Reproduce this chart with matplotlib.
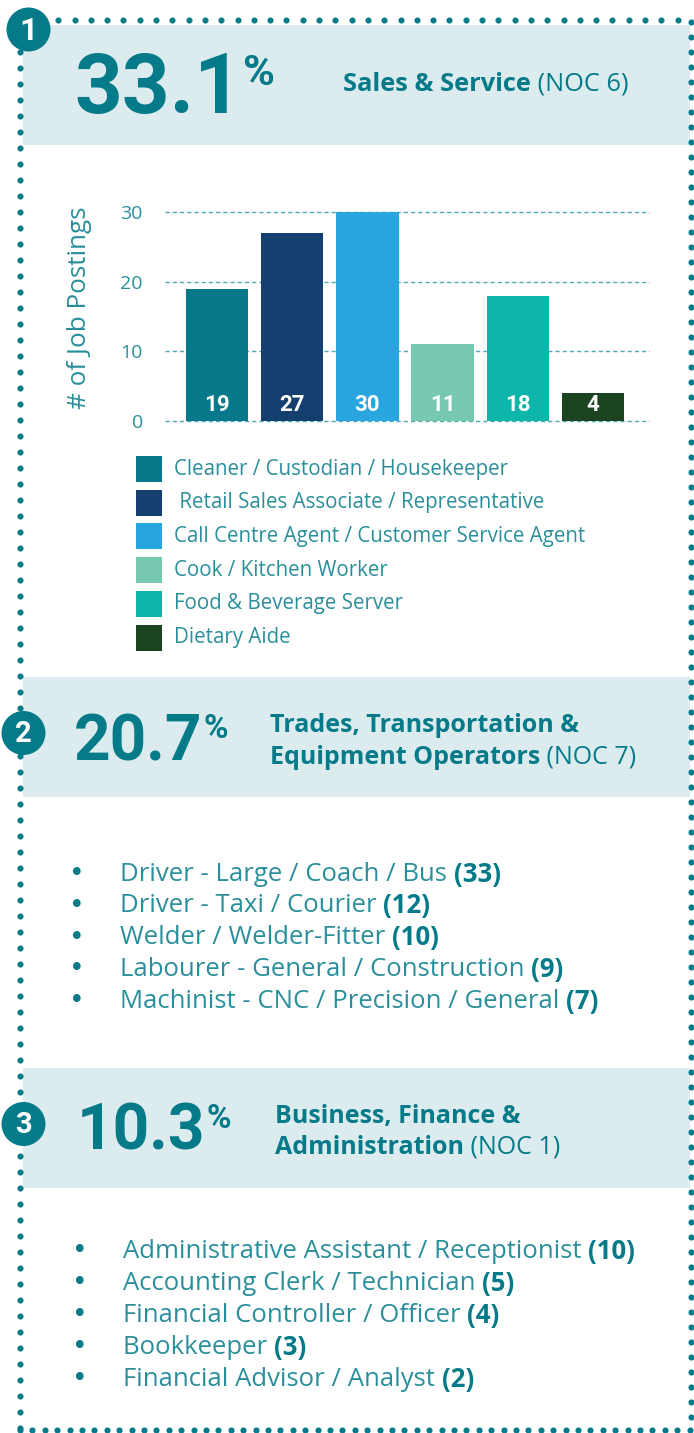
import matplotlib
matplotlib.use("Agg")
import matplotlib.pyplot as plt
import matplotlib.patches as patches
import numpy as np

# ---- data ----
jobs = ["Cleaner / Custodian / Housekeeper",
        " Retail Sales Associate / Representative",
        "Call Centre Agent / Customer Service Agent",
        "Cook / Kitchen Worker",
        "Food & Beverage Server",
        "Dietary Aide"]
postings = [19, 27, 30, 11, 18, 4]
bar_colors = ["#05788a", "#153f6e", "#29a6e0", "#77c8b0", "#0db6ab", "#1b4320"]
y_ticks = [0, 10, 20, 30]

shares = ["33.1", "20.7", "10.3"]

trades_jobs = ["Driver - Large / Coach / Bus", "Driver - Taxi / Courier",
               "Welder / Welder-Fitter", "Labourer - General / Construction",
               "Machinist - CNC / Precision / General"]
trades_counts = [33, 12, 10, 9, 7]

business_jobs = ["Administrative Assistant / Receptionist", "Accounting Clerk / Technician",
                 "Financial Controller / Officer", "Bookkeeper", "Financial Advisor / Analyst"]
business_counts = [10, 5, 4, 3, 2]

TEAL = "#057a89"
LIGHT = "#2a8f9b"
BAND = "#dcebee"
GRID = "#4fa8b3"
FONT = ["Open Sans", "DejaVu Sans"]

W, H = 694, 1433
fig = plt.figure(figsize=(W / 100, H / 100), dpi=100)
bg = fig.add_axes([0, 0, 1, 1])
bg.set_xlim(0, W)
bg.set_ylim(H, 0)
bg.axis("off")
renderer = fig.canvas.get_renderer()
PX = 100 / 72  # pixels per point


def rich(x, y, parts, size, color=TEAL, va="center"):
    """draw consecutive text runs [(text, weight, color)] starting at x"""
    for txt, weight, col in parts:
        t = bg.text(x, y, txt, fontsize=size, fontweight=weight, color=col or color,
                    family=FONT, ha="left", va=va, zorder=5)
        x += t.get_window_extent(renderer).width
    return x


# ---- header bands ----
for y0, y1 in [(25, 145), (677, 797), (1068, 1188)]:
    bg.add_patch(patches.Rectangle((23, y0), 667, y1 - y0, fc=BAND, ec="none", zorder=1))

# ---- dotted frame ----
dot = dict(ls="none", marker="o", ms=4.4, color=TEAL, mec="none", zorder=3)
xs_top = np.arange(42, 694, 16.3)
xs_bot = np.arange(20, 694, 12.4)
ys_left = np.arange(52, 1432, 16)
ys_right = np.arange(22, 1432, 15)
bg.plot(xs_top, np.full_like(xs_top, 20), **dot)
bg.plot(xs_bot, np.full_like(xs_bot, 1430), **dot)
bg.plot(np.full_like(ys_left, 20), ys_left, **dot)
bg.plot(np.full_like(ys_right, 691), ys_right, **dot)

# ---- badges ----
for (cx, cy, r), num in zip([(28.5, 29.5, 22), (23.5, 733, 22), (23.5, 1124, 22)], ["1", "2", "3"]):
    bg.add_patch(patches.Circle((cx, cy), r, fc=TEAL, ec="none", zorder=6))
    bg.text(cx, cy + 1, num, color="white", fontsize=23 if num == "1" else 21, fontweight="bold",
            family="Roboto", ha="center", va="center", zorder=7)


def big_share(x, y_base, value, size):
    t = bg.text(x, y_base, value, fontsize=size, fontweight="bold", color=TEAL,
                family="Roboto", ha="left", va="baseline", zorder=5)
    bb = t.get_window_extent(renderer)
    digit_top = y_base - 0.711 * size * PX
    psize = size * 0.52
    bg.text(x + bb.width + 1, digit_top + 0.711 * psize * PX, "%", fontsize=psize,
            fontweight="bold", color=TEAL, family="Roboto", ha="left", va="baseline", zorder=5)


# ---- section 1 ----
big_share(74, 113, shares[0], 60)
rich(343, 84, [("Sales & Service", "bold", None), (" (NOC 6)", "normal", None)], 18.3)

# bar chart
ppu = 209 / 30
lo, hi = -0.3, 30.3
ax_bottom = 421 + 0.3 * ppu
ax_h = (hi - lo) * ppu
ax = fig.add_axes([165 / W, 1 - ax_bottom / H, 485 / W, ax_h / H])
x = np.arange(len(postings))
xmin = -(217 - 165) / 75.2
ax.set_xlim(xmin, xmin + 485 / 75.2)
ax.set_ylim(lo, hi)
ax.bar(x, postings, width=0.83, color=bar_colors, zorder=3)
for xi, v in zip(x, postings):
    ax.text(xi, 2.3, str(v), color="white", fontsize=16, fontweight="bold",
            family="Roboto", ha="center", va="center", zorder=4)
for yt in y_ticks:
    ax.axhline(yt, color=GRID, lw=1, ls=(0, (3, 2.2)), zorder=1)
ax.set_yticks(y_ticks)
ax.set_yticklabels([str(v) for v in y_ticks], fontsize=14, color=LIGHT, family=FONT)
ax.tick_params(axis="y", length=0, pad=16)
ax.set_xticks([])
for s in ax.spines.values():
    s.set_visible(False)
ax.patch.set_alpha(0)

bg.text(80, 308, "# of Job Postings", rotation=90, fontsize=18.8, color=LIGHT,
        family=FONT, ha="center", va="center")

# legend
for i, (lab, col) in enumerate(zip(jobs, bar_colors)):
    yc = 469 + i * 33.7
    bg.add_patch(patches.Rectangle((136, yc - 13), 26, 26, fc=col, ec="none", zorder=4))
    bg.text(174, yc, lab, fontsize=14.8, color=LIGHT, family=FONT, ha="left", va="center")

# ---- section 2 ----
big_share(74, 760, shares[1], 46)
rich(270, 725, [("Trades, Transportation &", "bold", None)], 18)
rich(270, 757, [("Equipment Operators", "bold", None), (" (NOC 7)", "normal", None)], 18)

for i, (job, n) in enumerate(zip(trades_jobs, trades_counts)):
    yc = 874 + i * 31.8
    bg.text(77, yc, "\u2022", fontsize=19, color=TEAL, family="DejaVu Sans", ha="center", va="center")
    rich(120, yc, [(job + " ", "normal", LIGHT), (f"({n})", "bold", TEAL)], 18.5)

# ---- section 3 ----
big_share(77, 1150, shares[2], 46)
rich(275, 1116, [("Business, Finance &", "bold", None)], 18)
rich(275, 1147, [("Administration", "bold", None), (" (NOC 1)", "normal", None)], 18)

for i, (job, n) in enumerate(zip(business_jobs, business_counts)):
    yc = 1251 + i * 32
    bg.text(80, yc, "\u2022", fontsize=19, color=TEAL, family="DejaVu Sans", ha="center", va="center")
    rich(123, yc, [(job + " ", "normal", LIGHT), (f"({n})", "bold", TEAL)], 18.5)

fig.savefig("out.png", dpi=100)
